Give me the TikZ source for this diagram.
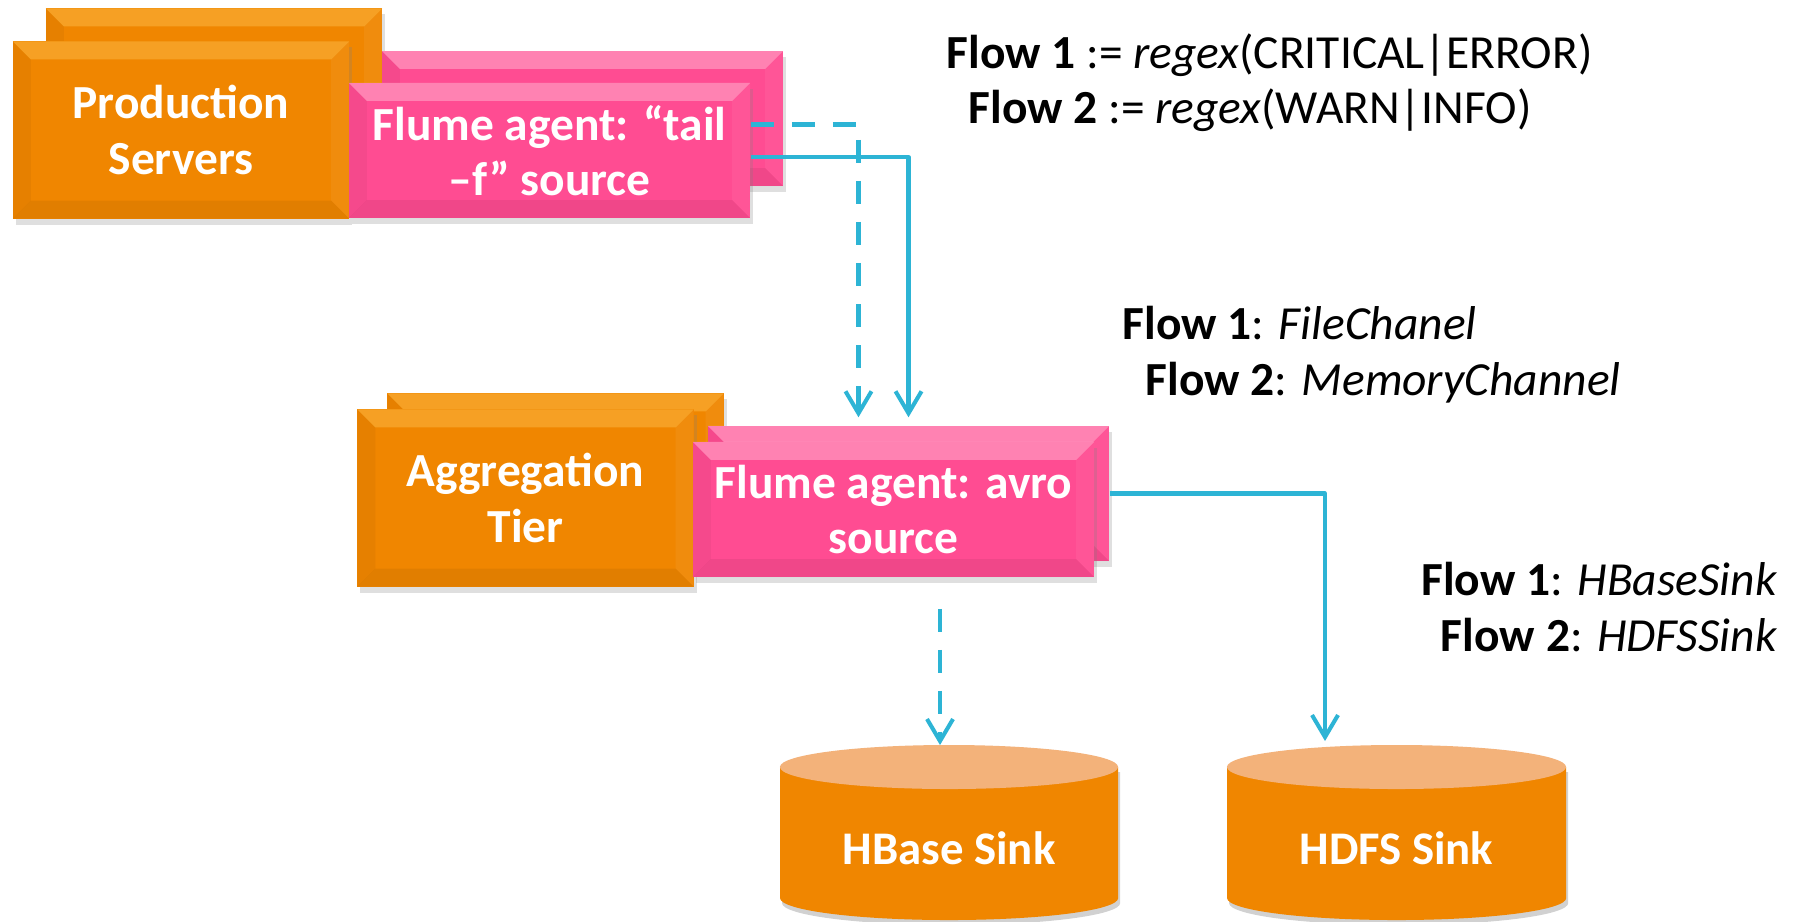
\documentclass[tikz,border=0pt]{standalone}
\usepackage{fontspec}
\setmainfont{Carlito}
\usetikzlibrary{arrows.meta, positioning, calc, shadows}

\definecolor{boxorange}{RGB}{240,134,0}
\definecolor{boxpink}{RGB}{255,76,146}
\definecolor{flowblue}{RGB}{45,180,213}
\definecolor{sinktop}{RGB}{243,178,122}
\definecolor{orangelight}{RGB}{250,178,60}

\tikzset{
  bevel/.style 2 args={path picture={
    \fill[#1] (path picture bounding box.north west) -- (path picture bounding box.north east)
      -- ([shift={(-1.8mm,-1.8mm)}]path picture bounding box.north east)
      -- ([shift={(1.8mm,-1.8mm)}]path picture bounding box.north west) -- cycle;
    \fill[#2] (path picture bounding box.south west) -- (path picture bounding box.south east)
      -- ([shift={(-1.8mm,1.8mm)}]path picture bounding box.south east)
      -- ([shift={(1.8mm,1.8mm)}]path picture bounding box.south west) -- cycle;
    \fill[black, opacity=0.04] (path picture bounding box.north west) -- ([shift={(1.8mm,-1.8mm)}]path picture bounding box.north west)
      -- ([shift={(1.8mm,1.8mm)}]path picture bounding box.south west) -- (path picture bounding box.south west) -- cycle;
    \fill[white, opacity=0.05] (path picture bounding box.north east) -- ([shift={(-1.8mm,-1.8mm)}]path picture bounding box.north east)
      -- ([shift={(-1.8mm,1.8mm)}]path picture bounding box.south east) -- (path picture bounding box.south east) -- cycle;
  }},
  box/.style={inner sep=0pt, text=white, align=center,
    font=\bfseries\fontsize{13.5}{15.8}\selectfont,
    drop shadow={shadow xshift=0.3mm, shadow yshift=-0.6mm, opacity=0.25}},
  orangebox/.style={box, fill=boxorange, minimum width=3.36cm, minimum height=1.77cm,
    bevel={orangelight, opacity=0.6}{black, opacity=0.06}},
  pinkbox/.style={box, fill=boxpink, minimum width=4.01cm, minimum height=1.35cm,
    bevel={white, opacity=0.3}{black, opacity=0.06}},
  flow/.style={draw=flowblue, line width=1.15pt, -{Straight Barb[length=2.2mm, width=2.6mm]}},
  flowdash/.style={flow, dash pattern=on 2.3mm off 1.8mm},
  flowtxt/.style={font=\fontsize{13.5}{16}\selectfont, inner sep=0pt},
  sinktext/.style={text=white, font=\bfseries\fontsize{13.3}{16}\selectfont, inner sep=0pt}
}

\begin{document}
\begin{tikzpicture}[x=0.01cm, y=-0.01cm, line join=round]
    \useasboundingbox (0,0) rectangle (1798,921);
    \fill[white] (0,0) rectangle (1798,921);

    % production tier
    \node[orangebox] (prodB) at (214,97) {};
    \node[pinkbox] (tailB) at (582.5,118.5) {};
    \node[orangebox] (prod) at (181,130) {Production\\Servers};
    \node[pinkbox] (tail) at (549.5,150.5) {Flume agent: “tail\\–f” source};

    % aggregation tier
    \node[orangebox] (aggB) at (555.5,482) {};
    \node[pinkbox] (avroB) at (908.5,493.5) {};
    \node[orangebox] (agg) at (525.5,498) {Aggregation\\Tier};
    \node[pinkbox] (avro) at (893.5,509.5) {Flume agent: avro\\source};

    % sinks
    \fill[black, opacity=0.18] (782,772) -- (782,903) arc[start angle=180, end angle=360, x radius=1.69cm, y radius=0.22cm] -- (1120,772) -- cycle;
    \fill[boxorange] (780,767) -- (780,898) arc[start angle=180, end angle=360, x radius=1.69cm, y radius=0.22cm] -- (1118,767) -- cycle;
    \fill[sinktop] (949,767) ellipse[x radius=1.69cm, y radius=0.22cm];
    \node[sinktext] (hbase) at (949,848) {HBase Sink};
    \coordinate (hbase in) at (940,745);

    \fill[black, opacity=0.18] (1229,772) -- (1229,903) arc[start angle=180, end angle=360, x radius=1.695cm, y radius=0.22cm] -- (1568,772) -- cycle;
    \fill[boxorange] (1227,767) -- (1227,898) arc[start angle=180, end angle=360, x radius=1.695cm, y radius=0.22cm] -- (1566,767) -- cycle;
    \fill[sinktop] (1396.5,767) ellipse[x radius=1.695cm, y radius=0.22cm];
    \node[sinktext] (hdfs) at (1396.5,848) {HDFS Sink};
    \coordinate (hdfs in) at (1325,741);

    % flows
    \draw[flowdash] ([yshift=2.6mm]tail.east) -| ([shift={(-5mm,0.8mm)}]avroB.north);
    \draw[flow] ([yshift=-0.65mm]tail.east) -| ([yshift=0.8mm]avroB.north);
    \draw[flowdash] ([yshift=-3.1mm]avro.south -| hbase in) -- (hbase in);
    \draw[flow] (avroB.east) -| (hdfs in);

    % labels
    \node[flowtxt, anchor=base west] (re1) at (946,68) {\textbf{Flow 1} := \textit{regex}(CRITICAL|ERROR)};
    \node[flowtxt, anchor=base west] (re2) at (968,123) {\textbf{Flow 2} := \textit{regex}(WARN|INFO)};
    \node[flowtxt, anchor=base west] (ch1) at (1122,339) {\textbf{Flow 1}: \textit{FileChanel}};
    \node[flowtxt, anchor=base west] (ch2) at (1145,395) {\textbf{Flow 2}: \textit{MemoryChannel}};
    \node[flowtxt, anchor=base east] (sk1) at (1778,595) {\textbf{Flow 1}: \textit{HBaseSink}};
    \node[flowtxt, anchor=base east] (sk2) at (1778,651) {\textbf{Flow 2}: \textit{HDFSSink}};
\end{tikzpicture}
\end{document}
